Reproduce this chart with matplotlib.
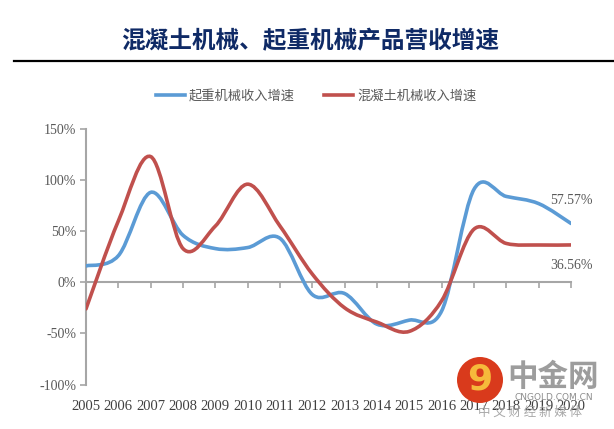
import numpy as np
import matplotlib.pyplot as plt
from matplotlib.path import Path
from matplotlib.patches import PathPatch, Circle
from matplotlib.lines import Line2D

years = list(range(2005, 2021))
year_labels = [str(y) for y in years]
crane = [16, 26, 88, 46, 33, 34, 43, -12, -11, -41, -37, -28, 91, 84, 77, 57.57]
concrete = [-26, 60, 123, 33, 55, 96, 55, 8, -25, -39, -48, -18, 52, 38, 36.5, 36.56]
series_names = ['起重机械收入增速', '混凝土机械收入增速']
colors = ['#5B9BD5', '#C0504D']
title = '混凝土机械、起重机械产品营收增速'

GRAY = '#595959'
AXIS = '#A6A6A6'


def smooth_path(xs, ys):
    # Excel-like smoothed line: Catmull-Rom segments as cubic Bezier curves
    p = np.column_stack([xs, ys]).astype(float)
    n = len(p)
    verts = [p[0]]
    codes = [Path.MOVETO]
    for i in range(n - 1):
        p0 = p[i - 1] if i > 0 else p[i]
        p1 = p[i]
        p2 = p[i + 1]
        p3 = p[i + 2] if i + 2 < n else p[i + 1]
        verts += [p1 + (p2 - p0) / 6, p2 - (p3 - p1) / 6, p2]
        codes += [Path.CURVE4] * 3
    return Path(verts, codes)


fig = plt.figure(figsize=(6.14, 4.29), dpi=100)
ax = fig.add_axes([86 / 614, 1 - 384.5 / 429, 485 / 614, 255.5 / 429])

for vals, c in zip([crane, concrete], colors):
    ax.add_patch(PathPatch(smooth_path(years, vals), facecolor='none',
                           edgecolor=c, lw=2.6, capstyle='round', zorder=3))

ax.set_xlim(years[0], years[-1])
ax.set_ylim(-100, 150)
ax.set_yticks([-100, -50, 0, 50, 100, 150])
ax.set_yticklabels([f'{v}%' for v in [-100, -50, 0, 50, 100, 150]])
ax.set_xticks(years)
ax.tick_params(axis='x', direction='out', length=4, color=AXIS, width=1.2,
               labelbottom=False)
ax.tick_params(axis='y', direction='out', length=4, color=AXIS, width=1.2,
               labelsize=10, labelcolor=GRAY, pad=3)
for t in ax.get_yticklabels():
    t.set_family('Liberation Serif')

ax.spines['top'].set_visible(False)
ax.spines['right'].set_visible(False)
ax.spines['bottom'].set_position(('data', 0))
for s in ['left', 'bottom']:
    ax.spines[s].set_color(AXIS)
    ax.spines[s].set_linewidth(1.5)

# year labels sit at the bottom of the plot, away from the zero axis
sec = ax.secondary_xaxis('bottom')
sec.set_xticks(years)
sec.set_xticklabels(year_labels, family='Liberation Serif', fontsize=10.5,
                    color='#404040')
sec.tick_params(length=0, pad=11)
sec.spines['bottom'].set_visible(False)

ax.text(2020, 57.57 + 22, '57.57%', ha='center', va='center', fontsize=10,
        family='Liberation Serif', color=GRAY)
ax.text(2020, 36.56 - 20, '36.56%', ha='center', va='center', fontsize=10,
        family='Liberation Serif', color=GRAY)

# title and rule
fig.text(0.505, 0.904, title, ha='center', va='center', fontsize=17,
         fontweight='bold', color='#0F2A66', family='Noto Sans CJK SC')
fig.add_artist(Line2D([14 / 614, 1], [1 - 61 / 429] * 2, color='black', lw=1.6))

handles = [Line2D([], [], color=c, lw=2.6) for c in colors]
fig.legend(handles, series_names, loc='center', ncol=2,
           bbox_to_anchor=(0.515, 1 - 96 / 429), frameon=False,
           prop={'family': 'Noto Sans CJK SC', 'size': 9.5},
           labelcolor=GRAY, handlelength=2.2, handletextpad=0.3,
           columnspacing=2.2)

# watermark
fig.add_artist(Circle((480, 429 - 380), 23, transform=None,
                      facecolor='#D93A1C', edgecolor='none', zorder=5))
fig.text(480 / 614, 1 - 379 / 429, '9', ha='center', va='center', fontsize=26,
         fontweight='bold', color='#F6B93B', family='DejaVu Sans', zorder=6)
fig.text(553 / 614, 1 - 377 / 429, '中金网', ha='center', va='center',
         fontsize=22, fontweight='bold', color='#8C8C8C',
         family='Noto Sans CJK SC', alpha=0.85)
fig.text(554 / 614, 1 - 397 / 429, 'CNGOLD.COM.CN', ha='center', va='center',
         fontsize=6.5, color='#8C8C8C', family='DejaVu Sans')
fig.text(530 / 614, 1 - 412 / 429, '中 文 财 经 新 媒 体', ha='center',
         va='center', fontsize=9, color='#9A9A9A', family='Noto Sans CJK SC',
         alpha=0.85)

fig.savefig('out.png', dpi=100)
